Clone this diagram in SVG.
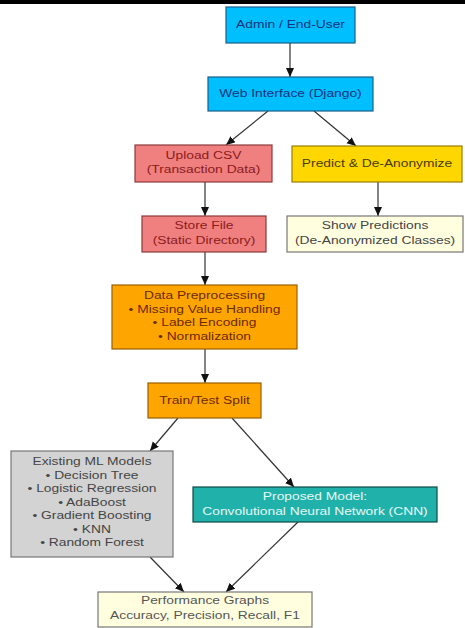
<svg xmlns="http://www.w3.org/2000/svg" width="465" height="628" viewBox="0 0 465 628">
<style>
  text { font-family: "Liberation Sans", Arial, sans-serif; font-size: 10px; text-anchor: middle; }
  .box { stroke-width: 1.2; }
  .edge { stroke: #333; stroke-width: 1.2; fill: none; marker-end: url(#arr); }
</style>
<defs>
  <marker id="arr" markerUnits="userSpaceOnUse" markerWidth="10" markerHeight="10" refX="9" refY="4" orient="auto">
    <path d="M0,0 L9,4 L0,8 Z" fill="#111"/>
  </marker>
</defs>
<rect x="0" y="0" width="465" height="628" fill="#ffffff"/>
<rect x="0" y="0" width="465" height="4" fill="#000000"/>

<g id="connectors">
  <line class="edge" x1="290" y1="43" x2="290" y2="77"/>
  <line class="edge" x1="268" y1="111" x2="226" y2="145"/>
  <line class="edge" x1="314" y1="111" x2="356" y2="146"/>
  <line class="edge" x1="205" y1="182" x2="205" y2="216"/>
  <line class="edge" x1="378" y1="182" x2="378" y2="216"/>
  <line class="edge" x1="205" y1="252" x2="205" y2="285"/>
  <line class="edge" x1="205" y1="349" x2="205" y2="383"/>
  <line class="edge" x1="178" y1="418" x2="150" y2="451"/>
  <line class="edge" x1="232" y1="418" x2="294" y2="487"/>
  <line class="edge" x1="150" y1="557" x2="184" y2="592"/>
  <line class="edge" x1="298" y1="522" x2="226" y2="592"/>
</g>

<g id="admin">
  <rect class="box" x="226" y="7" width="129" height="36" fill="#00bfff" stroke="#1a5f8a"/>
  <text transform="translate(290.5,0) scale(1.38,1)" fill="#12327a"><tspan x="0" y="28.5">Admin / End-User</tspan></text>
</g>
<g id="web">
  <rect class="box" x="208" y="77" width="165" height="34" fill="#00bfff" stroke="#1a5f8a"/>
  <text transform="translate(290.5,0) scale(1.38,1)" fill="#12327a"><tspan x="0" y="97.5">Web Interface (Django)</tspan></text>
</g>
<g id="upload">
  <rect class="box" x="135" y="145" width="137" height="37" fill="#f08080" stroke="#8b3a3a"/>
  <text transform="translate(203.5,0) scale(1.38,1)" fill="#8b1a1a"><tspan x="0" y="159">Upload CSV</tspan><tspan x="0" y="173.5">(Transaction Data)</tspan></text>
</g>
<g id="predict">
  <rect class="box" x="292" y="146" width="170" height="36" fill="#ffd700" stroke="#9a7d00"/>
  <text transform="translate(377,0) scale(1.38,1)" fill="#4a3a00"><tspan x="0" y="167.5">Predict &amp; De-Anonymize</tspan></text>
</g>
<g id="store">
  <rect class="box" x="142" y="216" width="124" height="36" fill="#f08080" stroke="#8b3a3a"/>
  <text transform="translate(204,0) scale(1.38,1)" fill="#8b1a1a"><tspan x="0" y="229.5">Store File</tspan><tspan x="0" y="244">(Static Directory)</tspan></text>
</g>
<g id="show">
  <rect class="box" x="287" y="216" width="176" height="36" fill="#ffffe0" stroke="#777"/>
  <text transform="translate(375,0) scale(1.38,1)" fill="#444"><tspan x="0" y="229.5">Show Predictions</tspan><tspan x="0" y="244">(De-Anonymized Classes)</tspan></text>
</g>
<g id="preprocess">
  <rect class="box" x="112" y="285" width="185" height="64" fill="#ffa500" stroke="#9a6000"/>
  <text transform="translate(204.5,0) scale(1.38,1)" fill="#6b2a00"><tspan x="0" y="299.5">Data Preprocessing</tspan><tspan x="0" y="313">• Missing Value Handling</tspan><tspan x="0" y="326.5">• Label Encoding</tspan><tspan x="0" y="340">• Normalization</tspan></text>
</g>
<g id="split">
  <rect class="box" x="148" y="383" width="113" height="35" fill="#ffa500" stroke="#9a6000"/>
  <text transform="translate(204.5,0) scale(1.38,1)" fill="#6b2a00"><tspan x="0" y="404">Train/Test Split</tspan></text>
</g>
<g id="existing">
  <rect class="box" x="11" y="451" width="162" height="106" fill="#d3d3d3" stroke="#777"/>
  <text transform="translate(92,0) scale(1.38,1)" fill="#444"><tspan x="0" y="465.5">Existing ML Models</tspan><tspan x="0" y="479">• Decision Tree</tspan><tspan x="0" y="492.5">• Logistic Regression</tspan><tspan x="0" y="506">• AdaBoost</tspan><tspan x="0" y="519.5">• Gradient Boosting</tspan><tspan x="0" y="533">• KNN</tspan><tspan x="0" y="546.5">• Random Forest</tspan></text>
</g>
<g id="proposed">
  <rect class="box" x="193" y="487" width="244" height="35" fill="#20b2aa" stroke="#0d4a46"/>
  <text transform="translate(315,0) scale(1.38,1)" fill="#e6f7f5"><tspan x="0" y="500.5">Proposed Model:</tspan><tspan x="0" y="515">Convolutional Neural Network (CNN)</tspan></text>
</g>
<g id="performance">
  <rect class="box" x="98" y="592" width="214" height="35" fill="#ffffe0" stroke="#777"/>
  <text transform="translate(205,0) scale(1.38,1)" fill="#555"><tspan x="0" y="604.5">Performance Graphs</tspan><tspan x="0" y="619">Accuracy, Precision, Recall, F1</tspan></text>
</g>
</svg>
